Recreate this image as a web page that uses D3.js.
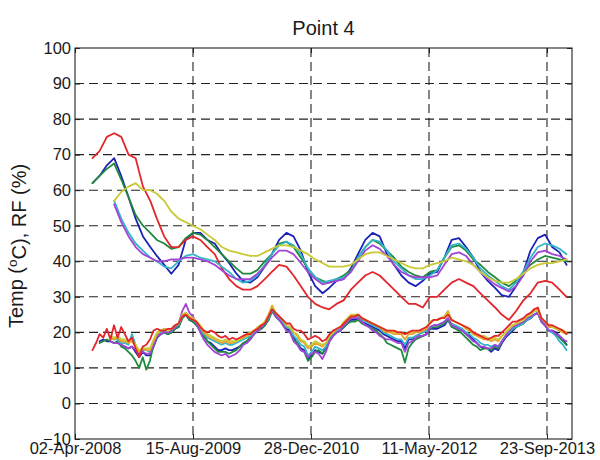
<!DOCTYPE html>
<html>
<head>
<meta charset="utf-8">
<script src="https://cdn.jsdelivr.net/npm/d3@7"></script>
<style>
  body { margin: 0; background: #fff; }
  text { font-family: Arial, "Liberation Sans", Helvetica, sans-serif; fill: #1a1a1a; }
</style>
</head>
<body>
<svg id="chart" width="600" height="460"></svg>
<script>
// Humidity is sampled monthly (mid-month, June 2008 .. December 2013);
// temperature is sampled twice a month over the same span.
const firstSample = new Date(Date.UTC(2008, 5, 15));
const rhCount = 67;
const tCount = 133;
const tStepDays = 15.22;

// Axis ticks
const xTickDates = ["2008-04-02", "2009-08-15", "2010-12-28", "2012-05-11", "2013-09-23"];
const xTickLabels = ["02-Apr-2008", "15-Aug-2009", "28-Dec-2010", "11-May-2012", "23-Sep-2013"];
const yTicks = [-10, 0, 10, 20, 30, 40, 50, 60, 70, 80, 90, 100];

// Relative humidity (%)
const rhBlue = [62,64,67,69,64,58,52,47,44,41.5,39,36.5,39,46,48,48,46,45,42,39.5,36.5,34.5,34,35.5,38.5,42,46,48,47,43,37,33,31,32.5,34.5,35,38,42,46,48,47,42,39,36,34,33,34.5,36.5,37,41,46,46.5,44,41,37,34.5,32.5,30.5,30,33,37,43,46.5,47.5,44,42.5,39];
const rhGreen = [62,64,66,67.5,63,58,53,50,48,46,45,43.5,44,46.5,48,47.5,46,44,42,40,38,36.5,36.5,37.5,40,42,45,45.5,44,41,38,35.5,34.5,34,35,36,37.5,41,44,46,45,43,41,38.5,37,36,35.5,37,37.5,41,44,44.5,43,40.5,39,37,35.5,34,33,34.5,37,39,40.5,41.5,41,40.5,40];
const rhRed = [69,71,75,76,75,70,69,61,57,52,47,44,44,46,47,46,44,42,38,35,33,32,32,33,35,37,39,38.5,36,33,30,28,27,26.5,28,29,32,34,36,37,36,34,32,30,28,28,27,30,30,32,34,35,34,33,31,29,27,25,23.5,26,29,31,34,34.5,34,32,30];
const rhCyan = [null,null,null,57,52,48,45,43,41,40,38.5,38,40,41.5,42,41,40.5,40,38.5,37,35,34,34.5,36,39,42,44.5,45.5,44.5,42,38,35.5,34,34.5,35,35.5,37,41,44,46,45.5,43,40,38,36,35,35,36,37.5,41,44.5,45,43.5,41,38,36,34.5,33,32,34,37,41,44,45,44.5,43.5,42];
const rhPurple = [null,null,null,56,51,47,44,42,41,40,40,40.5,40.5,41,41,40.5,40,39,37.5,36,35,35,35,36.5,38.5,41,43,43,42,39.5,37,35,33.5,34,34.5,35,37,40,43,44.5,43.5,41.5,39,37,36,35.5,35.5,35.5,36,39,42,42.5,41.5,39,37,35,33.5,32.5,31.5,33,36,40,42.5,43,42,41.5,40.5];
const rhYellow = [null,null,null,57,59.5,61,62,60,60,59,57,54,52,51,50,49,47.5,46,44,43,42.5,42,41.5,41.5,42.5,43.5,44.5,44.5,44,43,42,40.5,39.5,38.5,38.5,38.5,39,40.5,42,42.5,42.5,41.5,40.5,39.5,38.5,38,38,39,39.5,40,41,40.5,40,39,37,35.5,34.5,34,34,35,36.5,38,39,39.5,39.5,40,40.5];

// Temperature (°C)
const tRed = [15,17,19.5,18.5,21,18,22,18.5,21.5,19.5,
  17.5,18.5,15.5,13,16,16.5,18,20.5,21,20.5,
  20.5,21,21,22,22.5,24.5,25,24,23.5,23,
  21.5,20.5,20,20.5,20,19,18.5,19,18,18.5,
  18,18.5,19,19.5,19.5,20.5,21,22,22.5,24.5,
  26.5,25.5,24.5,23.5,22.5,22.5,21,20.5,20.5,19.5,
  18,18.5,19,18.5,17.5,18,19.5,20.5,21,21.5,
  22.5,23.5,24.5,24.5,25,24,23.5,23,22.5,22,
  21.5,21,20.5,20.5,20.5,20,20,19.5,20,20.5,
  20.5,20.5,21,21.5,22.5,23.5,23.5,24,24,25,
  23.5,23,22.5,22,21.5,21,20,19.5,19,18.5,
  18,18.5,19,19,20,21,22,23,23,23.5,
  24,25,25.5,26.5,27,24,23,22,22,21.5,
  21,20.5,19.5];
const tBlue = [null,null,17.5,18,17.5,17.5,17,17,16.5,16,
  15.5,16,14.5,13,14.5,13.5,13.5,16,18.5,19.5,
  20,19.5,20,21,21.5,24,25,23.5,23,22,
  20.5,19,17.5,17,16,15,15,15.5,15,15,
  15.5,16,17,17.5,18.5,19.5,20.5,21,22,23.5,
  26,24.5,23.5,22.5,21,20.5,18.5,17,15.5,15,
  12.5,13.5,15,14.5,14,15.5,18,19,20,20.5,
  21.5,22.5,23.5,23.5,24,23,22.5,22,21.5,21,
  20.5,19.5,19,18.5,18,17.5,17.5,15.5,18,18,
  18.5,19,19,19.5,21,21,21,21.5,22,23.5,
  22,21.5,21,20.5,19.5,19,18,17,16,15.5,
  15.5,14.5,15.5,15,17,18.5,19.5,20.5,21.5,22,
  22.5,23.5,24,25,25.5,23,22,20.5,20.5,20,
  19,18,16.5];
const tGreen = [null,null,17,17.5,18,17.5,17,17.5,16,15.5,
  14.5,13.5,12,10,13,9.5,12,16.5,19,19.5,
  20,19.5,20,21,21.5,24,25,23.5,23,22,
  20.5,19,17.5,16.5,15.5,14.5,14.5,14.5,14,14.5,
  15,16,17,17.5,18.5,19.5,20.5,21,22,23.5,
  26,24.5,23.5,22.5,20.5,20,18,17,15,14.5,
  12,13,14.5,15,14,15.5,17.5,19,20,20.5,
  21.5,22.5,23,23,23.5,22.5,22,21.5,21,20.5,
  19.5,18.5,17,16.5,16,15.5,15,11.5,15.5,17,
  18,18.5,19,19.5,21,21.5,21.5,22,22.5,23.5,
  21.5,21,20.5,19.5,18.5,17.5,16.5,16,15,15.5,
  15.5,15,16,15.5,17.5,19,20,21,21.5,22,
  22.5,23.5,24,25,25.5,23,22,20.5,20,19.5,
  18.5,17.5,16.5];
const tCyan = [null,null,null,null,null,18.5,18,18,17,17,
  16.5,19.5,16.5,14,15,15,14.5,17.5,19.5,20,
  20.5,20,20.5,21.5,22,24.5,25.5,24,23.5,22.5,
  21,19.5,18.5,18,17.5,17,16.5,17,16.5,16.5,
  17,17.5,18,18.5,19,20,21,21.5,22.5,24,
  26.5,25,24,23,21.5,21,19,18,16.5,16,
  13.5,14.5,16,15.5,15,16,18.5,19.5,20.5,21,
  22,23,24,24,24.5,23.5,23,22.5,22,21.5,
  21,20,19.5,19,18.5,18,18,16.5,18.5,18.5,
  19,19.5,20,20.5,21.5,22,22,22.5,23,24,
  22.5,22,21.5,21,20,19.5,18.5,18,17,16.5,
  16.5,16,16.5,16,17.5,19,20,21,21.5,22,
  22.5,23.5,24,25,25.5,23,22,20.5,20,19,
  17.5,16.5,15];
const tPurple = [null,null,null,null,null,17.5,17,17,16.5,16,
  15.5,16,15,14,14.5,14,14,16.5,19,19.5,
  20,20,20.5,21.5,22.5,26,28,25.5,24.5,22.5,
  20,18,16.5,15.5,14.5,14,13.5,14,13,13.5,
  14,15,16.5,17,18,19.5,20.5,21.5,22.5,24.5,
  27,24.5,23.5,22,20.5,20,17.5,16.5,15,14.5,
  13,14,14.5,14,12.5,14.5,17.5,19,20,20.5,
  22,23,24,24,24,23,22,21.5,20.5,20,
  19,18.5,18,18,17.5,17,17,14.5,17,17.5,
  18.5,19,19,19.5,21.5,22,22,22.5,23,24,
  22,21.5,21,20.5,19.5,18.5,17.5,17,16,16,
  15.5,15.5,16.5,16,17.5,19,20.5,21.5,22,22.5,
  23,24,24.5,25,25.5,23,22,20.5,20.5,19.5,
  19,18,17.5];
const tOrange = [null,null,null,null,null,18.5,18,18.5,17.5,17.5,
  17,17.5,16,14.5,15.5,15,15,17.5,19.5,20.5,
  21,20.5,21,22,22.5,24.5,25.5,24.5,24,23,
  21.5,20,19,18.5,18,17.5,17,17.5,17,17,
  17.5,18,18.5,19,19.5,20.5,21.5,22,23,25,
  27.5,25.5,24.5,23.5,22,21.5,20,19,17.5,17,
  15.5,16,17,16.5,16,17,19,20,21,21.5,
  22.5,23.5,24.5,24.5,25,24,23.5,23,22.5,22,
  21.5,20.5,20,20,19.5,19.5,19.5,18,19.5,19.5,
  20,20,20.5,21,23,23.5,23.5,24,24.5,26,
  23.5,23,22.5,22,21,20.5,19.5,19,18.5,18,
  18,17.5,18,17.5,19,20,21,22,22.5,23,
  23.5,24.5,25.5,26.5,26.5,24,23,21.5,21.5,21,
  20.5,20,19.5];
const tYellow = [null,null,null,null,null,19,18.5,19,18,18,
  17.5,18,16.5,15,15.5,15.5,15.5,18,20,20.5,
  21,20.5,21,22,22.5,25,25.5,24.5,24,23,
  22,20.5,19.5,19,18.5,18,17.5,18,17.5,17.5,
  17.5,18,19,19.5,20,20.5,21.5,22,23,24.5,
  27,25.5,24.5,23.5,22,21.5,20,19.5,18,17.5,
  16,16.5,17.5,17,16.5,17,19,20,21,21.5,
  23,24,25,25,25,24,23.5,23,22.5,22,
  21.5,21,20.5,20.5,20,20,20,19.5,20,20,
  20.5,20.5,21,21.5,23,23.5,23.5,24,24.5,25.5,
  23.5,23,22.5,22,21.5,21,20,19.5,19,19,
  18.5,18,18.5,18,19,20,21,22,22.5,23,
  23.5,24.5,25,26,26,24,23,22,21.5,21,
  21,20.5,20];

const colors = {
  blue: "#1c22b8", green: "#1f8a3c", red: "#e3262b", cyan: "#33b5c9",
  purple: "#a244d6", yellow: "#c9c935", orange: "#e9a227"
};

const W = 600, H = 460;
const margin = { left: 75, right: 28, top: 48, bottom: 21 };
const x0 = margin.left, x1 = W - margin.right, y0 = H - margin.bottom, y1 = margin.top;

const rhDates = d3.range(rhCount).map(i => d3.utcMonth.offset(firstSample, i));
const tDates = d3.range(tCount).map(k => new Date(firstSample.getTime() + k * tStepDays * 864e5));

const series = [
  { values: rhBlue, dates: rhDates, color: colors.blue },
  { values: rhGreen, dates: rhDates, color: colors.green },
  { values: rhRed, dates: rhDates, color: colors.red },
  { values: rhCyan, dates: rhDates, color: colors.cyan },
  { values: rhPurple, dates: rhDates, color: colors.purple },
  { values: rhYellow, dates: rhDates, color: colors.yellow },
  { values: tBlue, dates: tDates, color: colors.blue },
  { values: tGreen, dates: tDates, color: colors.green },
  { values: tCyan, dates: tDates, color: colors.cyan },
  { values: tPurple, dates: tDates, color: colors.purple },
  { values: tOrange, dates: tDates, color: colors.orange },
  { values: tYellow, dates: tDates, color: colors.yellow },
  { values: tRed, dates: tDates, color: colors.red }
];

const parse = d3.utcParse("%Y-%m-%d");
const tickDates = xTickDates.map(parse);
const xStart = tickDates[0];
const xEnd = d3.utcDay.offset(xStart, 2106);

const x = d3.scaleUtc().domain([xStart, xEnd]).range([x0, x1]);
const y = d3.scaleLinear().domain([-10, 100]).range([y0, y1]);

const svg = d3.select("#chart");
svg.append("rect").attr("width", W).attr("height", H).attr("fill", "#fff");

// Dashed grid
const grid = svg.append("g").attr("stroke", "#222").attr("stroke-width", 1.1)
  .attr("stroke-dasharray", "9,5").attr("fill", "none");
grid.selectAll("line.h").data(yTicks.filter(v => v > -10 && v < 100)).join("line")
  .attr("class", "h").attr("x1", x0).attr("x2", x1)
  .attr("y1", d => y(d)).attr("y2", d => y(d));
grid.selectAll("line.v").data(tickDates.slice(1)).join("line")
  .attr("class", "v").attr("y1", y1).attr("y2", y0)
  .attr("x1", d => x(d)).attr("x2", d => x(d));

// Data lines
const line = d3.line()
  .defined(d => d.v != null)
  .x(d => x(d.date))
  .y(d => y(d.v));

svg.append("g").attr("fill", "none").attr("stroke-width", 1.8)
  .attr("stroke-linejoin", "round").attr("stroke-linecap", "round")
  .selectAll("path").data(series).join("path")
  .attr("stroke", s => s.color)
  .attr("d", s => line(s.values.map((v, i) => ({ date: s.dates[i], v }))));

// Axes (ticks drawn inward, box on all sides)
const yAxisL = d3.axisLeft(y).tickValues(yTicks).tickSizeInner(-5).tickSizeOuter(0).tickPadding(4).tickFormat(d3.format("d"));
const yAxisR = d3.axisRight(y).tickValues(yTicks).tickSizeInner(-5).tickSizeOuter(0).tickFormat("");
const xAxisB = d3.axisBottom(x).tickValues(tickDates).tickSizeInner(-5).tickSizeOuter(0).tickPadding(3)
  .tickFormat((d, i) => xTickLabels[i]);
const xAxisT = d3.axisTop(x).tickValues(tickDates).tickSizeInner(-5).tickSizeOuter(0).tickFormat("");

function styleAxis(g) {
  g.select(".domain").remove();
  g.selectAll(".tick line").attr("stroke", "#222");
  g.selectAll("text").attr("font-size", 16.5).attr("fill", "#1a1a1a")
    .style("font-family", "Arial, 'Liberation Sans', sans-serif");
}

svg.append("g").attr("transform", `translate(${x0},0)`).call(yAxisL).call(styleAxis);
svg.append("g").attr("transform", `translate(${x1},0)`).call(yAxisR).call(styleAxis);
svg.append("g").attr("transform", `translate(0,${y0})`).call(xAxisB).call(styleAxis)
  .selectAll("text").attr("dy", "0.72em");
svg.append("g").attr("transform", `translate(0,${y1})`).call(xAxisT).call(styleAxis);

// Frame
svg.append("rect").attr("x", x0).attr("y", y1).attr("width", x1 - x0).attr("height", y0 - y1)
  .attr("fill", "none").attr("stroke", "#222").attr("stroke-width", 1.1);

// Title
svg.append("text").attr("x", (x0 + x1) / 2).attr("y", 35).attr("text-anchor", "middle")
  .attr("font-size", 20).text("Point 4");

// Y-axis label
const yl = svg.append("text").attr("text-anchor", "middle").attr("font-size", 20)
  .attr("transform", `translate(23,246) rotate(-90)`);
yl.append("tspan").text("Temp (");
yl.append("tspan").attr("dy", "-0.45em").attr("font-size", 13.5).text("o");
yl.append("tspan").attr("dy", "0.45em").text("C), RF (%)");
</script>
</body>
</html>
